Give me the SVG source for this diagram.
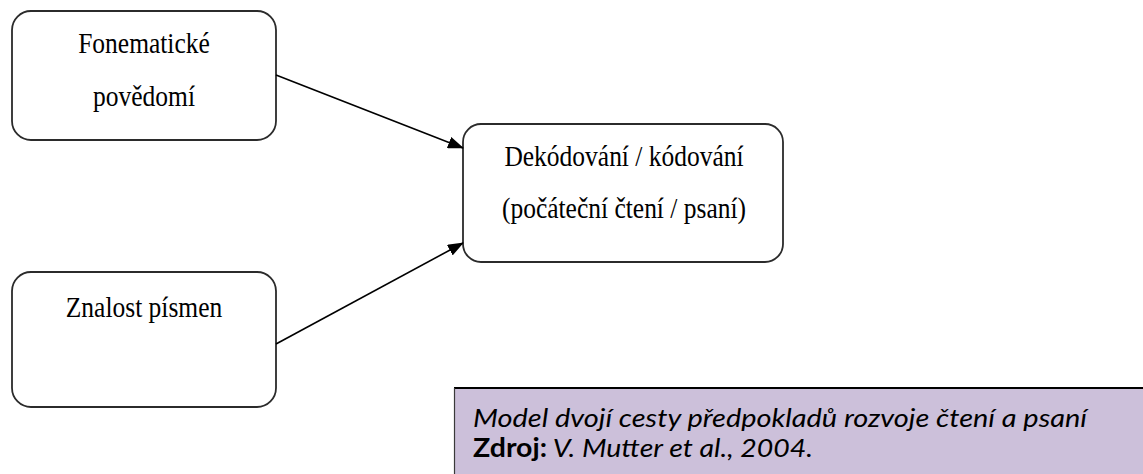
<svg xmlns="http://www.w3.org/2000/svg" width="1143" height="474" viewBox="0 0 1143 474">
  <style>
    .node rect { fill: #ffffff; stroke: #2b2b2b; stroke-width: 1.8; }
    .label { font-family: "Liberation Serif", "Times New Roman", serif; font-size: 25.5px; fill: #000000; text-anchor: middle; }
    .edge { stroke: #000000; stroke-width: 1.6; fill: none; marker-end: url(#arrow); }
    .caption { font-family: "Lato", "Open Sans", sans-serif; font-size: 26px; fill: #000000; font-style: italic; }
  </style>
  <defs>
    <marker id="arrow" markerWidth="16" markerHeight="12" refX="15" refY="6" orient="auto" markerUnits="userSpaceOnUse">
      <path d="M0,0 L16,6 L0,12 Z" fill="#000000"/>
    </marker>
  </defs>

  <rect x="0" y="0" width="1143" height="474" fill="#ffffff"/>

  <!-- labels are set slightly taller than wide, as in the source layout -->
  <g id="node-fonematicke" class="node">
    <rect x="12" y="11" width="264" height="129" rx="19" ry="19"/>
    <text class="label" transform="translate(144,53) scale(1,1.18)">Fonematické</text>
    <text class="label" transform="translate(144,106) scale(1,1.18)">povědomí</text>
  </g>

  <g id="node-znalost" class="node">
    <rect x="12" y="272" width="264" height="135" rx="19" ry="19"/>
    <text class="label" transform="translate(144,317) scale(1,1.18)">Znalost písmen</text>
  </g>

  <g id="node-dekodovani" class="node">
    <rect x="463" y="124" width="320" height="138" rx="18" ry="18"/>
    <text class="label" transform="translate(624,166) scale(1,1.18)">Dekódování / kódování</text>
    <text class="label" transform="translate(624,218) scale(1,1.18)">(počáteční čtení / psaní)</text>
  </g>

  <g id="connectors">
    <line class="edge" x1="276" y1="75" x2="463" y2="148"/>
    <line class="edge" x1="276" y1="344" x2="463" y2="243"/>
  </g>

  <g id="caption">
    <rect x="455" y="389" width="690" height="90" fill="#ccc0da"/>
    <line x1="454" y1="388" x2="1143" y2="388" stroke="#000000" stroke-width="2"/>
    <line x1="454.5" y1="388" x2="454.5" y2="474" stroke="#3a3a3a" stroke-width="1.2"/>
    <text class="caption" x="473" y="427" textLength="614" lengthAdjust="spacingAndGlyphs">Model dvojí cesty předpokladů rozvoje čtení a psaní</text>
    <text class="caption" x="473" y="457" textLength="340" lengthAdjust="spacingAndGlyphs"><tspan font-weight="bold" font-style="normal">Zdroj:</tspan> V. Mutter et al., 2004.</text>
  </g>
</svg>
